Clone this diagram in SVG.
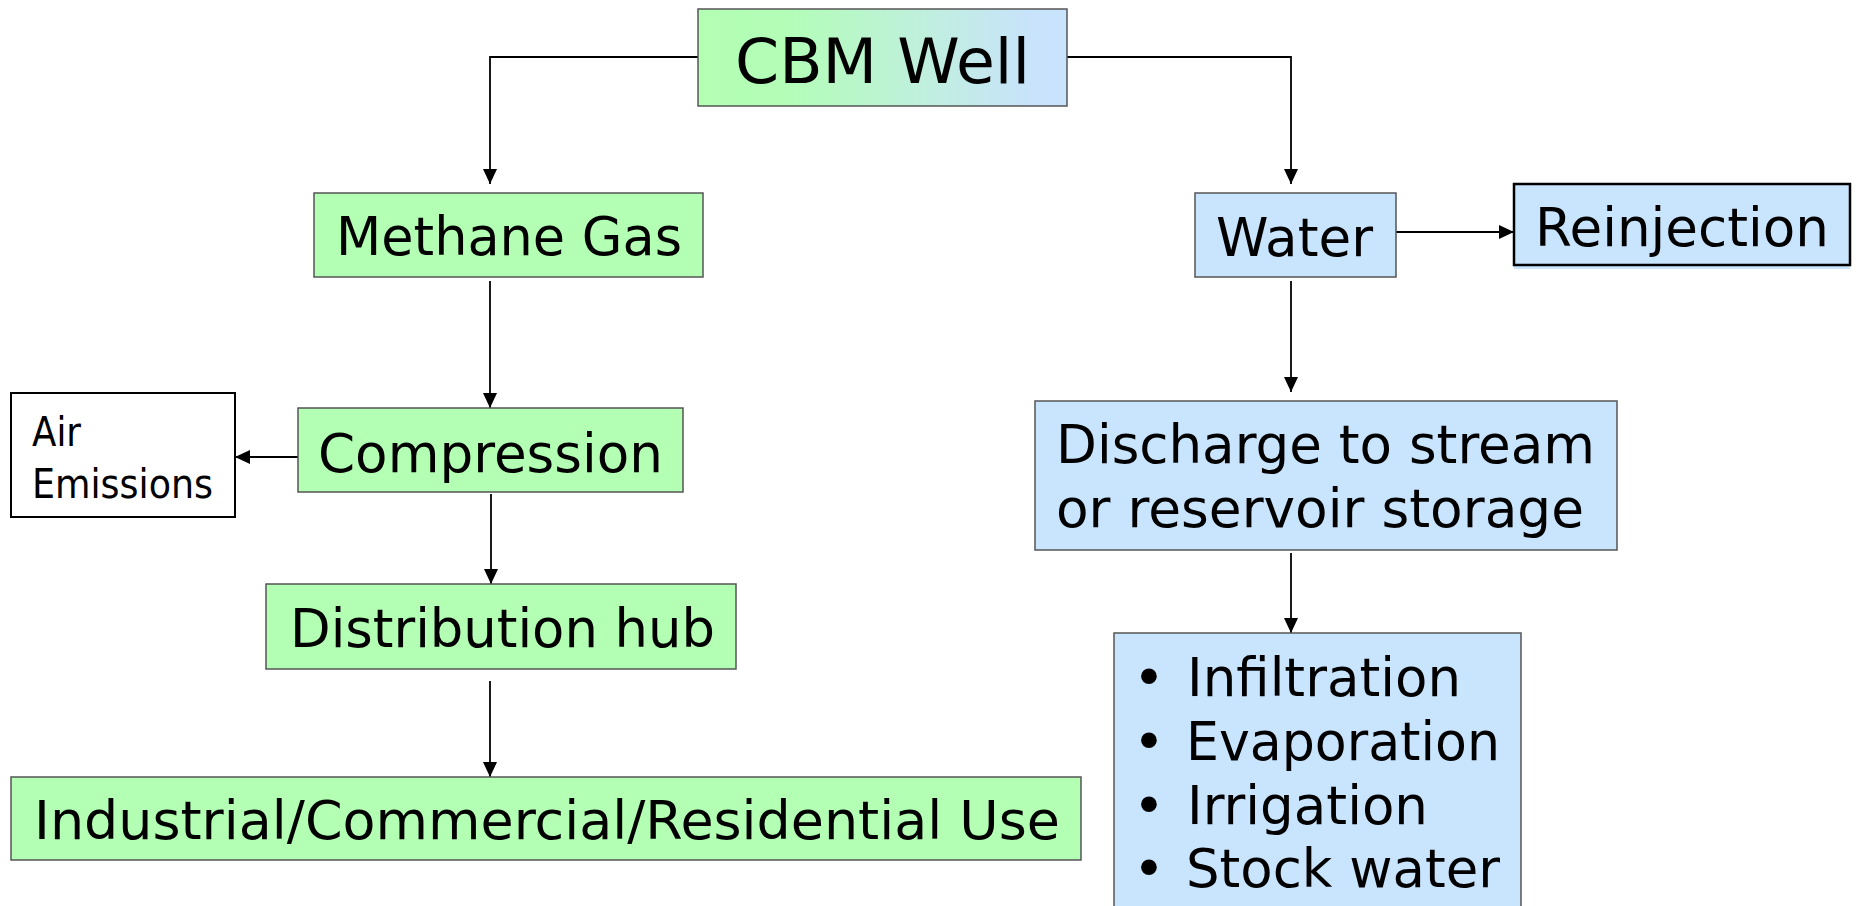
<svg xmlns="http://www.w3.org/2000/svg" width="1862" height="906" viewBox="0 0 1862 906">
<defs>
<linearGradient id="gw" x1="0" y1="0" x2="1" y2="0">
<stop offset="0" stop-color="#b3ffb3"/>
<stop offset="0.25" stop-color="#b3fdb8"/>
<stop offset="0.6" stop-color="#bff0dc"/>
<stop offset="0.9" stop-color="#c8e3fb"/>
<stop offset="1" stop-color="#c9e3fd"/>
</linearGradient>
<marker id="ah" markerUnits="userSpaceOnUse" markerWidth="16" markerHeight="16" viewBox="0 0 16 16" refX="15" refY="8" orient="auto">
<path d="M0,1 L15,8 L0,15 Z" fill="#000"/>
</marker>
<style>
.g{fill:#b3ffb3;stroke:#555;stroke-width:1.5}
.b{fill:#c9e4fd;stroke:#555;stroke-width:1.5}
.t{font-family:"DejaVu Sans","Verdana",sans-serif;fill:#000}
.c{fill:none;stroke:#000;stroke-width:1.8}
</style>
</defs>
<rect width="1862" height="906" fill="#fff"/>
<g id="connectors">
<polyline class="c" points="698,57 490,57 490,184" marker-end="url(#ah)"/>
<polyline class="c" points="1067,57 1291,57 1291,184" marker-end="url(#ah)"/>
<line class="c" x1="490" y1="281" x2="490" y2="408" marker-end="url(#ah)"/>
<line class="c" x1="298" y1="457" x2="235" y2="457" marker-end="url(#ah)"/>
<line class="c" x1="491" y1="494" x2="491" y2="584" marker-end="url(#ah)"/>
<line class="c" x1="490" y1="681" x2="490" y2="777" marker-end="url(#ah)"/>
<line class="c" x1="1388" y1="232" x2="1514" y2="232" marker-end="url(#ah)"/>
<line class="c" x1="1291" y1="281" x2="1291" y2="392" marker-end="url(#ah)"/>
<line class="c" x1="1291" y1="553" x2="1291" y2="633" marker-end="url(#ah)"/>
</g>
<g id="cbm-well">
<rect x="698" y="9" width="369" height="97" fill="url(#gw)" stroke="#555" stroke-width="1.5"/>
<text class="t" x="735" y="83" font-size="63" textLength="295" lengthAdjust="spacingAndGlyphs">CBM Well</text>
</g>
<g id="methane-gas">
<rect class="g" x="314" y="193" width="389" height="84"/>
<text class="t" x="336" y="255" font-size="54" textLength="346" lengthAdjust="spacingAndGlyphs">Methane Gas</text>
</g>
<g id="compression">
<rect class="g" x="298" y="408" width="385" height="84"/>
<text class="t" x="318" y="472" font-size="54" textLength="345" lengthAdjust="spacingAndGlyphs">Compression</text>
</g>
<g id="air-emissions">
<rect x="11" y="393" width="224" height="124" fill="#fff" stroke="#000" stroke-width="2"/>
<text class="t" x="32" y="446" font-size="41" textLength="49" lengthAdjust="spacingAndGlyphs">Air</text>
<text class="t" x="32" y="498" font-size="41" textLength="181" lengthAdjust="spacingAndGlyphs">Emissions</text>
</g>
<g id="distribution-hub">
<rect class="g" x="266" y="584" width="470" height="85"/>
<text class="t" x="290" y="647" font-size="54" textLength="425" lengthAdjust="spacingAndGlyphs">Distribution hub</text>
</g>
<g id="industrial-use">
<rect class="g" x="11" y="777" width="1070" height="83"/>
<text class="t" x="34" y="839" font-size="54" textLength="1026" lengthAdjust="spacingAndGlyphs">Industrial/Commercial/Residential Use</text>
</g>
<g id="water">
<rect class="b" x="1195" y="193" width="201" height="84"/>
<text class="t" x="1216" y="256" font-size="54" textLength="157" lengthAdjust="spacingAndGlyphs">Water</text>
</g>
<g id="reinjection">
<rect x="1514" y="187" width="336" height="82" fill="#c9e4fd"/>
<rect x="1514" y="184" width="336" height="81" fill="#c9e4fd" stroke="#000" stroke-width="2.5"/>
<text class="t" x="1535" y="246" font-size="54" textLength="294" lengthAdjust="spacingAndGlyphs">Reinjection</text>
</g>
<g id="discharge">
<rect class="b" x="1035" y="401" width="582" height="149"/>
<text class="t" x="1056" y="463" font-size="54" textLength="539" lengthAdjust="spacingAndGlyphs">Discharge to stream</text>
<text class="t" x="1056" y="527" font-size="54" textLength="528" lengthAdjust="spacingAndGlyphs">or reservoir storage</text>
</g>
<g id="water-uses">
<rect class="b" x="1114" y="633" width="407" height="290"/>
<text class="t" x="1149" y="696" font-size="54" text-anchor="middle">•</text>
<text class="t" x="1187" y="696" font-size="54" textLength="274" lengthAdjust="spacingAndGlyphs">Infiltration</text>
<text class="t" x="1149" y="760" font-size="54" text-anchor="middle">•</text>
<text class="t" x="1186" y="760" font-size="54" textLength="314" lengthAdjust="spacingAndGlyphs">Evaporation</text>
<text class="t" x="1149" y="824" font-size="54" text-anchor="middle">•</text>
<text class="t" x="1187" y="824" font-size="54" textLength="241" lengthAdjust="spacingAndGlyphs">Irrigation</text>
<text class="t" x="1149" y="887" font-size="54" text-anchor="middle">•</text>
<text class="t" x="1186" y="887" font-size="54" textLength="314" lengthAdjust="spacingAndGlyphs">Stock water</text>
</g>
</svg>
